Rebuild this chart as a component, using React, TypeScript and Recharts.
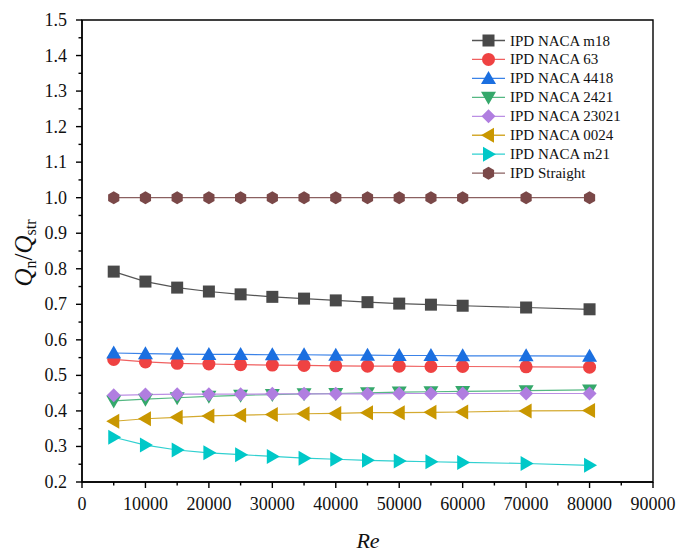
import { LineChart, Line, XAxis, YAxis, ReferenceArea } from 'recharts'

const reValues = [5000, 10000, 15000, 20000, 25000, 30000, 35000, 40000, 45000, 50000, 55000, 60000, 70000, 80000]
const nacaM18 = [0.792, 0.764, 0.747, 0.736, 0.728, 0.721, 0.716, 0.711, 0.706, 0.702, 0.699, 0.696, 0.691, 0.686]
const naca63 = [0.545, 0.538, 0.534, 0.532, 0.530, 0.529, 0.528, 0.527, 0.526, 0.526, 0.525, 0.525, 0.524, 0.523]
const naca4418 = [0.563, 0.561, 0.560, 0.559, 0.559, 0.558, 0.558, 0.557, 0.557, 0.556, 0.556, 0.555, 0.555, 0.554]
const naca2421 = [0.428, 0.433, 0.437, 0.441, 0.444, 0.446, 0.448, 0.449, 0.451, 0.453, 0.454, 0.455, 0.457, 0.459]
const naca23021 = [0.444, 0.446, 0.447, 0.447, 0.447, 0.448, 0.448, 0.448, 0.448, 0.449, 0.449, 0.449, 0.449, 0.449]
const naca0024 = [0.371, 0.378, 0.382, 0.386, 0.388, 0.390, 0.392, 0.393, 0.395, 0.395, 0.396, 0.397, 0.400, 0.401]
const nacaM21 = [0.326, 0.304, 0.290, 0.282, 0.277, 0.272, 0.267, 0.264, 0.261, 0.259, 0.257, 0.255, 0.252, 0.247]
const straight = [1, 1, 1, 1, 1, 1, 1, 1, 1, 1, 1, 1, 1, 1]

const xTicks = [0, 5000, 10000, 15000, 20000, 25000, 30000, 35000, 40000, 45000, 50000, 55000, 60000, 65000, 70000, 75000, 80000, 85000, 90000]
const yTicks = [0.2, 0.25, 0.3, 0.35, 0.4, 0.45, 0.5, 0.55, 0.6, 0.65, 0.7, 0.75, 0.8, 0.85, 0.9, 0.95, 1.0, 1.05, 1.1, 1.15, 1.2, 1.25, 1.3, 1.35, 1.4, 1.45, 1.5]

const data = reValues.map((re, i) => ({
  re,
  m18: nacaM18[i],
  n63: naca63[i],
  n4418: naca4418[i],
  n2421: naca2421[i],
  n23021: naca23021[i],
  n0024: naca0024[i],
  m21: nacaM21[i],
  straight: straight[i],
}))

const FONT = '"Liberation Serif", "Times New Roman", serif'
const serif = { fontFamily: FONT }

type Shape = 'square' | 'circle' | 'up' | 'down' | 'diamond' | 'left' | 'right' | 'hex'

const series: { key: string; name: string; color: string; line: string; shape: Shape }[] = [
  { key: 'm18', name: 'IPD NACA m18', color: '#494949', line: '#555555', shape: 'square' },
  { key: 'n63', name: 'IPD NACA 63', color: '#ef4242', line: '#f06060', shape: 'circle' },
  { key: 'n4418', name: 'IPD NACA 4418', color: '#1b6fe0', line: '#3a82e8', shape: 'up' },
  { key: 'n2421', name: 'IPD NACA 2421', color: '#35a86b', line: '#55b883', shape: 'down' },
  { key: 'n23021', name: 'IPD NACA 23021', color: '#b07ee0', line: '#bb8fe4', shape: 'diamond' },
  { key: 'n0024', name: 'IPD NACA 0024', color: '#c99700', line: '#d4aa30', shape: 'left' },
  { key: 'm21', name: 'IPD NACA m21', color: '#00c8c8', line: '#30d0d0', shape: 'right' },
  { key: 'straight', name: 'IPD Straight', color: '#7a4848', line: '#8a6060', shape: 'hex' },
]

const marker = (shape: Shape, cx: number, cy: number, color: string, key?: string) => {
  switch (shape) {
    case 'square':
      return <rect key={key} x={cx - 6} y={cy - 6} width={12} height={12} fill={color} />
    case 'circle':
      return <circle key={key} cx={cx} cy={cy} r={6.5} fill={color} />
    case 'up':
      return <polygon key={key} points={`${cx},${cy - 7.5} ${cx + 7.5},${cy + 5.5} ${cx - 7.5},${cy + 5.5}`} fill={color} />
    case 'down':
      return <polygon key={key} points={`${cx - 7.5},${cy - 5.5} ${cx + 7.5},${cy - 5.5} ${cx},${cy + 7.5}`} fill={color} />
    case 'diamond':
      return <polygon key={key} points={`${cx},${cy - 7} ${cx + 7},${cy} ${cx},${cy + 7} ${cx - 7},${cy}`} fill={color} />
    case 'left':
      return <polygon key={key} points={`${cx - 7.5},${cy} ${cx + 5.5},${cy - 7.5} ${cx + 5.5},${cy + 7.5}`} fill={color} />
    case 'right':
      return <polygon key={key} points={`${cx + 7.5},${cy} ${cx - 5.5},${cy - 7.5} ${cx - 5.5},${cy + 7.5}`} fill={color} />
    default:
      return (
        <polygon
          key={key}
          points={`${cx},${cy - 6.5} ${cx + 5.6},${cy - 3.25} ${cx + 5.6},${cy + 3.25} ${cx},${cy + 6.5} ${cx - 5.6},${cy + 3.25} ${cx - 5.6},${cy - 3.25}`}
          fill={color}
        />
      )
  }
}

const XTick = (props: any) => {
  const { x, y, payload } = props
  const major = payload.value % 10000 === 0
  return (
    <g>
      <line x1={x} y1={y} x2={x} y2={y + (major ? 6 : 3.5)} stroke="#000" strokeWidth={1.4} />
      {major && (
        <text x={x} y={y + 28} textAnchor="middle" style={serif} fontSize={18} fill="#111">
          {payload.value}
        </text>
      )}
    </g>
  )
}

const YTick = (props: any) => {
  const { x, y, payload } = props
  const major = Math.round(payload.value * 100) % 10 === 0
  return (
    <g>
      <line x1={x - (major ? 6 : 3.5)} y1={y} x2={x} y2={y} stroke="#000" strokeWidth={1.4} />
      {major && (
        <text x={x - 15} y={y + 6} textAnchor="end" style={serif} fontSize={18} fill="#111">
          {payload.value.toFixed(1)}
        </text>
      )}
    </g>
  )
}

export default function App() {
  return (
    <div style={{ position: 'absolute', left: 0, top: 0, background: '#fff' }}>
      <LineChart width={680} height={552} data={data} margin={{ top: 20, right: 27, bottom: 40, left: 22 }}>
        <XAxis
          dataKey="re"
          type="number"
          domain={[0, 90000]}
          ticks={xTicks}
          interval={0}
          tickSize={0}
          tickMargin={0}
          tickLine={false}
          tick={<XTick />}
          axisLine={{ stroke: '#000', strokeWidth: 1.4 }}
          height={30}
        />
        <YAxis
          type="number"
          domain={[0.2, 1.5]}
          ticks={yTicks}
          interval={0}
          tickSize={0}
          tickMargin={0}
          tickLine={false}
          tick={<YTick />}
          axisLine={{ stroke: '#000', strokeWidth: 1.4 }}
          width={60}
        />
        <ReferenceArea x1={0} x2={90000} y1={0.2} y2={1.5} fill="none" stroke="#000" strokeWidth={1.4} />
        {series.map((s) => (
          <Line
            key={s.key}
            dataKey={s.key}
            name={s.name}
            stroke={s.line}
            strokeWidth={1.2}
            isAnimationActive={false}
            dot={(p: any) => marker(s.shape, p.cx, p.cy, s.color, `${s.key}-${p.index}`)}
            activeDot={false}
          />
        ))}
        <g>
          {series.map((s, i) => {
            const cy = 40.5 + i * 18.95
            return (
              <g key={s.key}>
                <line x1={472} y1={cy} x2={505} y2={cy} stroke={s.line} strokeWidth={1.3} />
                {marker(s.shape, 488.5, cy, s.color)}
                <text x={510} y={cy + 5} style={serif} fontSize={15} fill="#111">
                  {s.name}
                </text>
              </g>
            )
          })}
        </g>
        <text transform="rotate(-90, 32, 253)" x={32} y={253} textAnchor="middle" style={serif} fontSize={25} fill="#111">
          <tspan fontStyle="italic">Q</tspan>
          <tspan fontSize={16} dy={4}>n</tspan>
          <tspan dy={-4}>/</tspan>
          <tspan fontStyle="italic">Q</tspan>
          <tspan fontSize={16} dy={4}>str</tspan>
        </text>
        <text x={368} y={548} textAnchor="middle" style={serif} fontSize={22} fontStyle="italic" fill="#111">
          Re
        </text>
      </LineChart>
    </div>
  )
}
